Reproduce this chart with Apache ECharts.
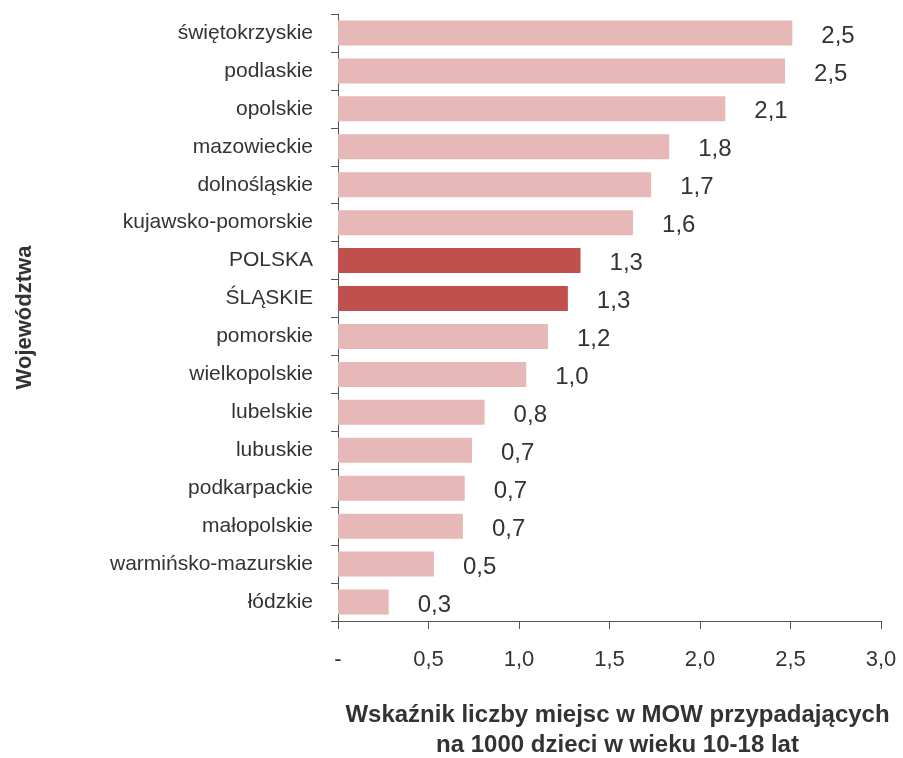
<!DOCTYPE html>
<html>
<head>
<meta charset="utf-8">
<script src="https://cdn.jsdelivr.net/npm/echarts@6/dist/echarts.min.js"></script>
<style>
  html, body { margin: 0; padding: 0; background: #fff; }
  #chart { width: 903px; height: 758px; }
</style>
</head>
<body>
<div id="chart"></div>
<script>
const regions = [
  'świętokrzyskie', 'podlaskie', 'opolskie', 'mazowieckie', 'dolnośląskie',
  'kujawsko-pomorskie', 'POLSKA', 'ŚLĄSKIE', 'pomorskie', 'wielkopolskie',
  'lubelskie', 'lubuskie', 'podkarpackie', 'małopolskie', 'warmińsko-mazurskie', 'łódzkie'
]
const values = [2.51, 2.47, 2.14, 1.83, 1.73, 1.63, 1.34, 1.27, 1.16, 1.04, 0.81, 0.74, 0.70, 0.69, 0.53, 0.28]
const highlighted = ['POLSKA', 'ŚLĄSKIE']
const xTicks = [0, 0.5, 1.0, 1.5, 2.0, 2.5, 3.0]

const font = '"Liberation Sans Narrow", "Arial Narrow", "Liberation Sans", Arial, sans-serif'
const boldFont = '"Liberation Sans", Arial, sans-serif'
const textColor = '#333'
const fmt = v => v === 0 ? '-' : v.toFixed(1).replace('.', ',')

const chart = echarts.init(document.getElementById('chart'))

chart.setOption({
  animation: false,
  textStyle: { fontFamily: font },
  grid: { left: 338, right: 22, top: 14, bottom: 137, containLabel: false, outerBoundsMode: 'none' },
  xAxis: {
    type: 'value',
    min: xTicks[0],
    max: xTicks[xTicks.length - 1],
    interval: 0.5,
    axisLine: { show: true, lineStyle: { color: '#555', width: 1 } },
    axisTick: { show: true, length: 8, lineStyle: { color: '#555' } },
    splitLine: { show: false },
    axisLabel: { fontSize: 22, color: textColor, margin: 28, formatter: fmt, fontFamily: font },
    name: 'Wskaźnik liczby miejsc w MOW przypadających\nna 1000 dzieci w wieku 10-18 lat',
    nameLocation: 'middle',
    nameGap: 79,
    nameTextStyle: {
      fontSize: 24, fontWeight: 'bold', color: textColor, lineHeight: 30,
      fontFamily: boldFont, padding: [0, 0, 0, 16]
    }
  },
  yAxis: {
    type: 'category',
    data: regions,
    inverse: true,
    axisLine: { show: true, lineStyle: { color: '#555', width: 1 } },
    axisTick: { show: true, length: 7, lineStyle: { color: '#555' } },
    axisLabel: { fontSize: 21, color: textColor, margin: 25, fontFamily: font },
    name: 'Województwa',
    nameLocation: 'middle',
    nameRotate: 90,
    nameGap: 302,
    nameTextStyle: {
      fontSize: 22, fontWeight: 'bold', color: textColor, fontFamily: boldFont
    }
  },
  series: [{
    type: 'bar',
    barWidth: 25,
    data: values.map((v, i) => ({
      value: v,
      itemStyle: { color: highlighted.includes(regions[i]) ? '#c0504d' : '#e6b8b7' }
    })),
    label: {
      show: true,
      position: 'right',
      distance: 29,
      fontSize: 24,
      color: textColor,
      fontFamily: font,
      offset: [0, 3],
      formatter: p => fmt(p.value)
    }
  }]
})
</script>
</body>
</html>
